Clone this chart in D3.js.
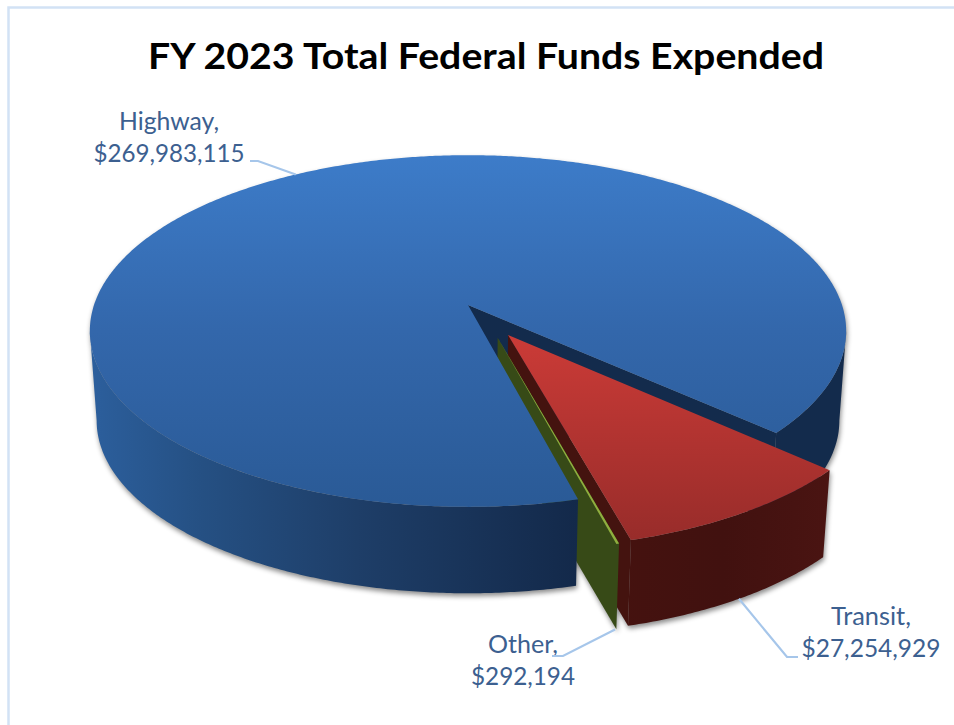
<!DOCTYPE html>
<html>
<head>
<meta charset="utf-8">
<script src="https://cdnjs.cloudflare.com/ajax/libs/d3/7.8.5/d3.min.js"></script>
<style>
  html, body { margin: 0; padding: 0; background: #fff; }
  svg { display: block; }
  text { font-family: Lato, "Open Sans", sans-serif; }
</style>
</head>
<body>
<div id="chart"></div>
<script>
var categories = ["Highway", "Transit", "Other"];
var amounts = [269983115, 27254929, 292194];
var amountLabels = ["$269,983,115", "$27,254,929", "$292,194"];
var chartTitle = "FY 2023 Total Federal Funds Expended";

var width = 954, height = 725;

// 3d pie layout, worked out from the picture
var cx = 468, cy = 305;      // apex of the pie on the top face
var R = 374, A = 172;        // horizontal / vertical radius
var persp = 0.148;           // far side shrinks, near side grows
var depth = 90, depthK = 0.982;  // bottom face offset and shrink
var explode = [0, 0.2, 0.2];
var explodeNudge = [0, 0, -7.9]; // excel moves the thin slice a bit off its own middle (deg)

var rad = Math.PI / 180;
var edgeAngle = Math.acos(-persp); // where the side wall turns away from the viewer

var svg = d3.select("#chart").append("svg")
  .attr("width", width)
  .attr("height", height);

var defs = svg.append("defs");

function gradient(id, x1, y1, x2, y2, stops) {
  var g = defs.append("linearGradient")
    .attr("id", id)
    .attr("gradientUnits", "userSpaceOnUse")
    .attr("x1", x1).attr("y1", y1)
    .attr("x2", x2).attr("y2", y2);
  stops.forEach(function(s) {
    g.append("stop").attr("offset", s[0]).attr("stop-color", s[1]);
  });
}

gradient("hwTop", 0, 155, 0, 507, [[0, "#3d7cc9"], [0.5, "#3367ab"], [1, "#2a5a96"]]);
gradient("trTop", 0, 335, 0, 540, [[0, "#cb3b37"], [1, "#982c2a"]]);
gradient("hwWall", 89, 0, 577, 0, [[0, "#2c5f9d"], [0.23, "#255083"], [0.55, "#1e3e68"], [1, "#13294a"]]);
gradient("trWall", 617, 0, 829, 0, [[0, "#45120f"], [0.5, "#41110f"], [1, "#4a1412"]]);

var shadow = defs.append("filter")
  .attr("id", "pieShadow")
  .attr("color-interpolation-filters", "sRGB")
  .attr("x", "-5%").attr("y", "-5%")
  .attr("width", "110%").attr("height", "115%");
shadow.append("feDropShadow")
  .attr("dx", 1).attr("dy", 3)
  .attr("stdDeviation", 2.5)
  .attr("flood-color", "#000")
  .attr("flood-opacity", 0.45);

// frame, only top and left are showing
svg.append("path")
  .attr("d", "M8.5,725V7.5H954")
  .attr("fill", "none")
  .attr("stroke", "#d2e2f5")
  .attr("stroke-width", 2.5);

var pie = d3.pie()
  .sort(null)
  .value(function(d) { return d; })
  .startAngle(165.4 * rad)
  .endAngle((165.4 + 360) * rad);

var arcs = pie(amounts);

var line = d3.line();

// offset of an exploded slice in plane coordinates
function offset(i) {
  var a = (arcs[i].startAngle + arcs[i].endAngle) / 2 + explodeNudge[i] * rad;
  return [explode[i] * Math.sin(a), explode[i] * Math.cos(a)];
}

// plane point (unit circle) to the screen. bottom=true gives the lower face
function project(nx, ny, bottom) {
  var s = 1 / (1 + persp * ny);
  var x = R * nx * s, y = -A * ny * s;
  if (bottom) { x *= depthK; y = y * depthK + depth; }
  return [cx + x, cy + y];
}

function rimPoint(i, angle, bottom) {
  var o = offset(i);
  return project(o[0] + Math.sin(angle), o[1] + Math.cos(angle), bottom);
}

function apex(i, bottom) {
  var o = offset(i);
  return project(o[0], o[1], bottom);
}

function rim(i, a0, a1, bottom) {
  var n = Math.max(2, Math.ceil(Math.abs(a1 - a0) / (0.5 * rad)));
  return d3.range(n + 1).map(function(k) {
    return rimPoint(i, a0 + (a1 - a0) * k / n, bottom);
  });
}

function topFace(i) {
  return line([apex(i, false)].concat(rim(i, arcs[i].startAngle, arcs[i].endAngle, false))) + "Z";
}

function wall(i, a0, a1) {
  return line(rim(i, a0, a1, false).concat(rim(i, a1, a0, true))) + "Z";
}

function cutFace(i, angle) {
  return line([apex(i, false), rimPoint(i, angle, false), rimPoint(i, angle, true), apex(i, true)]) + "Z";
}

var g = svg.append("g").attr("filter", "url(#pieShadow)");

function draw(d, fill) {
  g.append("path").attr("d", d).attr("fill", fill);
}

var hw = arcs[0], tr = arcs[1], ot = arcs[2];

// back to front, the order matters here
draw(cutFace(0, hw.endAngle), "#132b4c");
draw(wall(0, 2 * Math.PI + edgeAngle, hw.endAngle), "#132b4c");

draw(cutFace(1, tr.endAngle), "#44130f");
draw(wall(1, tr.startAngle, tr.endAngle), "url(#trWall)");
draw(topFace(1), "url(#trTop)");

draw(cutFace(2, ot.startAngle), "#374a17");
draw(topFace(2), "#8fae3f");

draw(wall(0, hw.startAngle, 2 * Math.PI - edgeAngle), "url(#hwWall)");
draw(topFace(0), "url(#hwTop)");

// title
svg.append("text")
  .attr("x", 486)
  .attr("y", 69)
  .attr("text-anchor", "middle")
  .attr("font-size", 37)
  .attr("font-weight", 700)
  .attr("fill", "#000")
  .attr("textLength", 676)
  .attr("lengthAdjust", "spacingAndGlyphs")
  .text(chartTitle);

// data labels, center x and first baseline
var labelX = [169, 871, 523];
var labelY = [130, 625, 653];
var labelW = [[100, 151], [80, 139], [70, 104]];

categories.forEach(function(c, i) {
  var t = svg.append("g").attr("fill", "#3c6090").attr("font-size", 25).attr("text-anchor", "middle");
  t.append("text").attr("x", labelX[i]).attr("y", labelY[i])
    .attr("textLength", labelW[i][0]).attr("lengthAdjust", "spacingAndGlyphs")
    .text(c + ",");
  t.append("text").attr("x", labelX[i]).attr("y", labelY[i] + 32)
    .attr("textLength", labelW[i][1]).attr("lengthAdjust", "spacingAndGlyphs")
    .text(amountLabels[i]);
});

// leader lines, from the middle of each slice to an elbow next to the label
function mid(d) { return (d.startAngle + d.endAngle) / 2; }
var leaders = [
  [rimPoint(0, mid(hw), false), [258, 161], [250, 161]],
  [rimPoint(1, mid(tr), true), [787, 657], [798, 657]],
  [rimPoint(2, mid(ot), true), [563, 656], [552, 656]]
];

svg.append("g").selectAll("path")
  .data(leaders)
  .join("path")
  .attr("d", function(d) { return line(d); })
  .attr("fill", "none")
  .attr("stroke", "#a6c6ea")
  .attr("stroke-width", 2.2);
</script>
</body>
</html>
